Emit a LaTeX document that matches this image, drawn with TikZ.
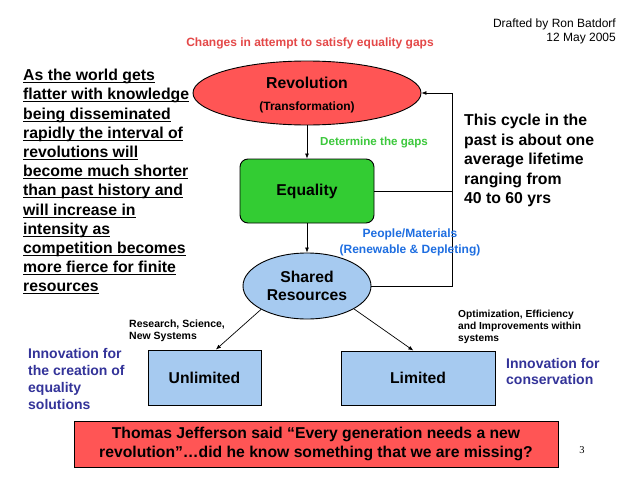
\documentclass[tikz,border=0pt]{standalone}
\usepackage{fontspec}
\setmainfont{Liberation Sans}
\newfontfamily\pagenumfont{Liberation Serif}
\usetikzlibrary{shapes.geometric,arrows.meta,calc}
\newsavebox\ulbox
\newcommand\ulline[1]{\sbox\ulbox{#1}\rlap{\rule[-2.6pt]{\wd\ulbox}{1.1pt}}\usebox\ulbox}
\definecolor{revred}{RGB}{255,85,85}
\definecolor{eqgreen}{RGB}{51,204,51}
\definecolor{lblue}{RGB}{166,202,240}
\definecolor{chgred}{RGB}{228,72,72}
\definecolor{gapgreen}{RGB}{60,200,60}
\definecolor{pblue}{RGB}{30,110,225}
\definecolor{innov}{RGB}{51,51,153}
\begin{document}
\begin{tikzpicture}[x=1pt,y=-1pt,
  shapeline/.style={draw=black,line width=0.9pt},
  bigtxt/.style={font=\fontsize{15.7}{18.5}\selectfont\bfseries},
  arr/.style={line width=0.7pt,-{Latex[length=5pt,width=4pt]}},
  conn/.style={line width=0.7pt},
  txt/.style={inner sep=0pt,align=left}]
\useasboundingbox[fill=white] (0,0) rectangle (638,479);

% header
\node[txt,anchor=north east,align=right,font=\fontsize{12}{14}\selectfont] (draft) at (616,18.5) {Drafted by Ron Batdorf\\12 May 2005};
\node[inner sep=0pt,text=chgred,font=\fontsize{12}{14}\selectfont\bfseries] (chg) at (310,43) {Changes in attempt to satisfy equality gaps};

% main shapes
\node[ellipse,shapeline,fill=revred,minimum width=228,minimum height=64,inner sep=0pt] (rev) at (307,93) {};
\node[inner sep=0pt,font=\fontsize{15.8}{18}\selectfont\bfseries] (revt) at (307,83) {Revolution};
\node[inner sep=0pt,font=\fontsize{12}{14}\selectfont\bfseries] (revs) at (307,107) {(Transformation)};

\node[shapeline,fill=eqgreen,rounded corners=8pt,minimum width=134,minimum height=64,bigtxt] (eq) at (307,191) {Equality};

\node[ellipse,shapeline,fill=lblue,minimum width=128,minimum height=66,inner sep=0pt,bigtxt,align=center] (sh) at (307,286) {Shared\\Resources};

\node[shapeline,fill=lblue,minimum width=113,minimum height=55,bigtxt] (unl) at (204.5,377.5) {Unlimited};
\node[shapeline,fill=lblue,minimum width=154,minimum height=54,bigtxt] (lim) at (418,378) {Limited};

\node[shapeline,fill=revred,minimum width=484,minimum height=46,bigtxt,align=center] (jeff) at (316,444) {Thomas Jefferson said \char"201C Every generation needs a new\\revolution\char"201D\char"2026 did he know something that we are missing?};

\node[inner sep=0pt,font=\pagenumfont\fontsize{10.5}{12}\selectfont] (pg) at (582,450) {3};

% connectors
\draw[arr] (rev.south) -- (eq.north);
\draw[arr] (eq.south) -- (sh.north);
\coordinate (cyc) at (452,286);
\draw[arr] (sh.east) -- (cyc) |- (rev.east);
\draw[conn] (eq.east) -- (eq.east -| cyc);
\draw[arr] (sh.207) -- ($(unl.north west)!0.6!(unl.north east)$);
\draw[arr] (sh.334) -- ($(lim.north west)!0.47!(lim.north east)$);

% labels
\node[txt,anchor=west,text=gapgreen,font=\fontsize{11.6}{14}\selectfont\bfseries] (gaps) at (320,143) {Determine the gaps};
\node[inner sep=0pt,align=center,text=pblue,font=\fontsize{12}{16}\selectfont\bfseries] (ppl) at (410,242) {People/Materials\\(Renewable \& Depleting)};

\node[txt,anchor=north west,font=\fontsize{15.8}{19.2}\selectfont\bfseries] (left) at (23,69) {\ulline{As the world gets}\\\ulline{flatter with knowledge}\\\ulline{being disseminated}\\\ulline{rapidly the interval of}\\\ulline{revolutions will}\\\ulline{become much shorter}\\\ulline{than past history and}\\\ulline{will increase in}\\\ulline{intensity as}\\\ulline{competition becomes}\\\ulline{more fierce for finite}\\\ulline{resources}};

\node[txt,anchor=north west,font=\fontsize{15.8}{19.5}\selectfont\bfseries] (cycle) at (464,114) {This cycle in the\\past is about one\\average lifetime\\ranging from\\40 to 60 yrs};

\node[txt,anchor=north west,font=\fontsize{10.5}{12}\selectfont\bfseries] (rsn) at (129,320) {Research, Science,\\New Systems};
\node[txt,anchor=north west,font=\fontsize{10.2}{12}\selectfont\bfseries] (opt) at (458,310) {Optimization, Efficiency\\and Improvements within\\systems};

\node[txt,anchor=north west,text=innov,font=\fontsize{14}{17}\selectfont\bfseries] (inl) at (28,348) {Innovation for\\the creation of\\equality\\solutions};
\node[txt,anchor=north west,text=innov,font=\fontsize{14}{16.5}\selectfont\bfseries] (inr) at (506,358) {Innovation for\\conservation};
\end{tikzpicture}
\end{document}
